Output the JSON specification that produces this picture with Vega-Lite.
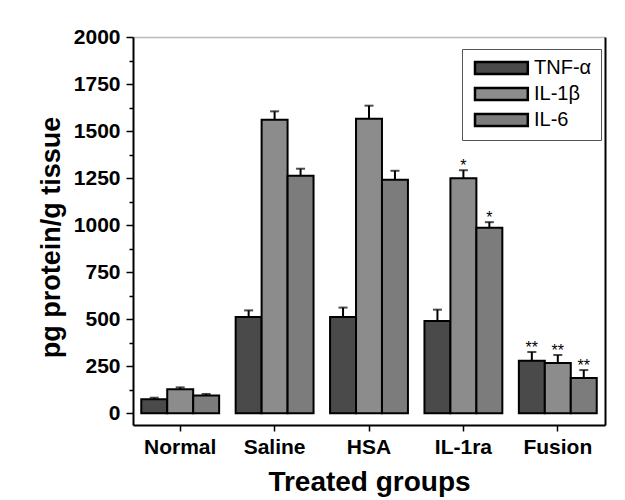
{
  "$schema": "https://vega.github.io/schema/vega-lite/v6.json",
  "autosize": "none",
  "width": 472,
  "height": 388,
  "padding": {"left": 133, "top": 37, "right": 20, "bottom": 75},
  "background": "white",
  "config": {
    "view": {"stroke": null},
    "font": "Liberation Sans"
  },
  "data": {
    "values": [
      {"group": "Normal", "cytokine": "TNF-α", "value": 75, "top": 83, "sig": ""},
      {"group": "Normal", "cytokine": "IL-1β", "value": 128, "top": 138, "sig": ""},
      {"group": "Normal", "cytokine": "IL-6", "value": 95, "top": 103, "sig": ""},
      {"group": "Saline", "cytokine": "TNF-α", "value": 512, "top": 547, "sig": ""},
      {"group": "Saline", "cytokine": "IL-1β", "value": 1560, "top": 1605, "sig": ""},
      {"group": "Saline", "cytokine": "IL-6", "value": 1262, "top": 1300, "sig": ""},
      {"group": "HSA", "cytokine": "TNF-α", "value": 512, "top": 562, "sig": ""},
      {"group": "HSA", "cytokine": "IL-1β", "value": 1565, "top": 1635, "sig": ""},
      {"group": "HSA", "cytokine": "IL-6", "value": 1241, "top": 1289, "sig": ""},
      {"group": "IL-1ra", "cytokine": "TNF-α", "value": 491, "top": 551, "sig": ""},
      {"group": "IL-1ra", "cytokine": "IL-1β", "value": 1250, "top": 1292, "sig": "*"},
      {"group": "IL-1ra", "cytokine": "IL-6", "value": 986, "top": 1016, "sig": "*"},
      {"group": "Fusion", "cytokine": "TNF-α", "value": 279, "top": 326, "sig": "**"},
      {"group": "Fusion", "cytokine": "IL-1β", "value": 268, "top": 310, "sig": "**"},
      {"group": "Fusion", "cytokine": "IL-6", "value": 188, "top": 230, "sig": "**"}
    ]
  },
  "resolve": {"axis": {"x": "independent", "y": "independent"}},
  "layer": [
    {
      "mark": {"type": "bar", "stroke": "black", "strokeWidth": 2},
      "encoding": {
        "x": {
          "field": "group", "type": "nominal",
          "sort": ["Normal", "Saline", "HSA", "IL-1ra", "Fusion"],
          "scale": {"paddingInner": 0.175, "paddingOuter": 0.0875},
          "axis": {
            "orient": "bottom", "title": "Treated groups", "labelAngle": 0,
            "domainColor": "black", "domainWidth": 2, "tickColor": "black", "tickWidth": 1.5, "tickSize": 6,
            "labelFont": "Liberation Sans", "labelFontSize": 21, "labelFontWeight": "bold", "labelColor": "black", "labelPadding": 5,
            "titleFont": "Liberation Sans", "titleFontSize": 28, "titleFontWeight": "bold", "titleColor": "black", "titlePadding": 11
          }
        },
        "xOffset": {"field": "cytokine", "type": "nominal", "sort": ["TNF-α", "IL-1β", "IL-6"], "scale": {"paddingInner": 0, "paddingOuter": 0}},
        "y": {
          "field": "value", "type": "quantitative",
          "scale": {"domain": [-62, 2000], "nice": false, "zero": false},
          "axis": {
            "orient": "left", "title": "pg protein/g tissue", "values": [0, 250, 500, 750, 1000, 1250, 1500, 1750, 2000], "format": "d",
            "grid": false, "domainColor": "black", "domainWidth": 2, "tickColor": "black", "tickWidth": 1.5, "tickSize": 7,
            "labelFont": "Liberation Sans", "labelFontSize": 21, "labelFontWeight": "bold", "labelColor": "black", "labelPadding": 6,
            "titleFont": "Liberation Sans", "titleFontSize": 27, "titleFontWeight": "bold", "titleColor": "black", "titlePadding": 8, "titleY": 200
          }
        },
        "color": {
          "field": "cytokine", "type": "nominal", "sort": ["TNF-α", "IL-1β", "IL-6"],
          "scale": {"range": ["#4a4a4a", "#8c8c8c", "#7c7c7c"]},
          "legend": {
            "title": null, "orient": "none", "legendX": 329, "legendY": 12,
            "strokeColor": "#555", "fillColor": "white", "padding": 9,
            "symbolType": "M-1,-1H7.8V1H-1Z", "symbolSize": 144, "symbolStrokeColor": "black", "symbolStrokeWidth": 2.5, "symbolOpacity": 1,
            "labelFont": "Liberation Sans", "labelFontSize": 20, "labelColor": "black", "labelOffset": 43, "rowPadding": 4
          }
        }
      }
    },
    {
      "mark": {"type": "rule", "color": "black", "strokeWidth": 2},
      "encoding": {
        "x": {
          "field": "group", "type": "nominal",
          "sort": ["Normal", "Saline", "HSA", "IL-1ra", "Fusion"],
          "scale": {"paddingInner": 0.175, "paddingOuter": 0.0875},
          "axis": {"orient": "top", "title": null, "labels": false, "ticks": false, "domainColor": "#bbbbbb", "domainWidth": 1.5}
        },
        "xOffset": {"field": "cytokine", "type": "nominal", "sort": ["TNF-α", "IL-1β", "IL-6"], "scale": {"paddingInner": 0, "paddingOuter": 0}},
        "y": {
          "field": "value", "type": "quantitative",
          "scale": {"domain": [-62, 2000], "nice": false, "zero": false},
          "axis": {"orient": "right", "title": null, "labels": false, "ticks": false, "grid": false, "domainColor": "black", "domainWidth": 2}
        },
        "y2": {"field": "top"}
      }
    },
    {
      "mark": {"type": "tick", "color": "black", "thickness": 2, "size": 9},
      "encoding": {
        "x": {
          "field": "group", "type": "nominal",
          "sort": ["Normal", "Saline", "HSA", "IL-1ra", "Fusion"],
          "scale": {"paddingInner": 0.175, "paddingOuter": 0.0875},
          "axis": null
        },
        "xOffset": {"field": "cytokine", "type": "nominal", "sort": ["TNF-α", "IL-1β", "IL-6"], "scale": {"paddingInner": 0, "paddingOuter": 0}},
        "y": {
          "field": "top", "type": "quantitative", "scale": {"domain": [-62, 2000], "nice": false, "zero": false},
          "axis": {"orient": "left", "title": null, "labels": false, "domain": false, "grid": false, "values": [125, 375, 625, 875, 1125, 1375, 1625, 1875], "tickSize": 4, "tickWidth": 1.5, "tickColor": "black"}
        }
      }
    },
    {
      "mark": {"type": "text", "color": "black", "fontSize": 16, "baseline": "bottom", "dy": 4, "font": "Liberation Sans"},
      "encoding": {
        "x": {
          "field": "group", "type": "nominal",
          "sort": ["Normal", "Saline", "HSA", "IL-1ra", "Fusion"],
          "scale": {"paddingInner": 0.175, "paddingOuter": 0.0875},
          "axis": null
        },
        "xOffset": {"field": "cytokine", "type": "nominal", "sort": ["TNF-α", "IL-1β", "IL-6"], "scale": {"paddingInner": 0, "paddingOuter": 0}},
        "y": {"field": "top", "type": "quantitative", "scale": {"domain": [-62, 2000], "nice": false, "zero": false}, "axis": null},
        "text": {"field": "sig"}
      }
    }
  ]
}
